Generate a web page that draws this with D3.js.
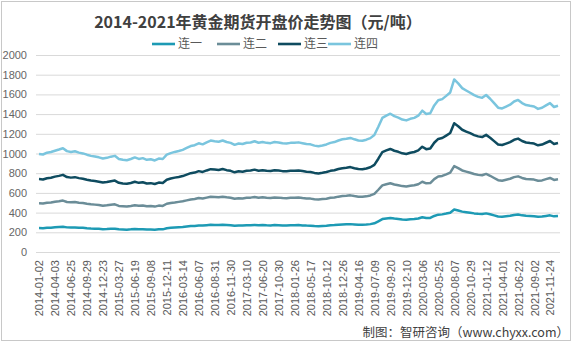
<!DOCTYPE html>
<html>
<head>
<meta charset="utf-8">
<script src="https://cdn.jsdelivr.net/npm/d3@7"></script>
<style>
  body { margin: 0; background: #fff; }
  svg { display: block; }
</style>
</head>
<body>
<svg id="chart" width="573" height="345"></svg>
<script>
// Category labels shown on the x axis (every ~58th trading day)
const categories = [
  "2014-01-02","2014-04-03","2014-06-25","2014-09-29","2014-12-23",
  "2015-03-27","2015-06-19","2015-09-08","2015-12-11","2016-03-14",
  "2016-06-07","2016-08-31","2016-11-30","2017-03-10","2017-06-20",
  "2017-10-30","2018-01-26","2018-05-17","2018-10-12","2018-12-26",
  "2019-04-16","2019-07-09","2019-09-20","2019-12-10","2020-03-06",
  "2020-05-25","2020-08-07","2020-10-29","2021-01-12","2021-04-01",
  "2021-06-22","2021-09-02","2021-11-24"
];

const seriesNames = ["连一", "连二", "连三", "连四"];

// Opening prices per contract, sampled four times per label interval
const lian1 = [
  243,242,246,247,251,255,257,250,248,249,
  246,245,241,238,236,235,231,233,236,237,
  230,229,227,230,234,231,232,228,229,227,
  231,230,241,245,248,251,253,258,263,265,
  270,268,272,276,275,274,277,274,271,266,
  269,268,271,272,275,272,273,271,270,273,
  272,270,269,271,271,273,270,268,267,264,
  262,265,267,271,273,277,280,282,283,280,
  277,277,279,283,291,312,334,340,345,339,
  335,331,328,332,334,340,353,345,346,366,
  379,382,390,399,432,422,410,404,398,392,
  388,386,392,383,372,361,358,363,368,376,
  380,372,367,365,363,358,360,366,372,362,
  365
];
const lian2 = [
  251,250,253,256,260,261,265,258,256,258,
  254,252,249,246,245,242,239,241,244,247,
  238,236,235,238,241,238,241,236,237,234,
  240,238,249,253,255,258,262,266,270,273,
  278,275,280,285,284,282,284,281,279,274,
  277,276,279,280,283,279,282,279,278,281,
  280,278,277,279,279,280,278,276,275,272,
  271,272,274,279,281,285,288,289,292,288,
  285,284,286,291,299,320,342,348,353,347,
  343,338,336,340,343,348,360,352,354,374,
  387,390,398,407,440,430,418,412,406,400,
  395,393,401,391,379,368,366,371,376,384,
  388,380,374,373,372,365,367,374,380,370,
  373
];
const lian3 = [
  246,244,250,251,254,257,261,253,251,253,
  250,247,244,241,240,237,235,236,239,241,
  234,231,230,233,238,233,235,231,233,229,
  234,233,244,248,252,253,256,261,267,268,
  273,270,276,280,278,277,281,276,274,269,
  273,271,275,275,278,274,276,274,274,276,
  275,273,273,274,274,275,274,271,271,267,
  265,267,271,274,276,280,283,284,287,283,
  280,279,283,286,294,315,338,343,348,342,
  339,333,331,335,338,343,356,347,350,369,
  382,385,394,402,435,425,413,407,402,395,
  391,388,396,386,375,363,362,366,371,379,
  383,375,371,368,366,360,364,369,375,365,
  369
];
const lian4 = [
  256,254,259,261,263,267,270,263,261,263,
  259,257,254,251,249,247,244,246,249,251,
  243,241,240,243,247,243,245,241,242,239,
  244,243,254,258,261,263,266,271,276,278,
  283,280,285,290,288,287,290,286,284,279,
  282,281,284,285,288,284,286,284,283,286,
  285,283,282,284,284,285,283,281,280,277,
  275,277,280,284,286,290,293,294,296,293,
  290,289,292,296,304,325,347,353,358,352,
  348,343,341,345,347,353,366,357,359,379,
  392,395,403,412,445,435,423,417,411,405,
  401,398,405,396,385,373,371,376,381,389,
  393,385,380,378,376,370,373,379,385,375,
  378
];
const sampleStep = 0.25; // fraction of a label interval between samples

const yTicks = [0, 200, 400, 600, 800, 1000, 1200, 1400, 1600, 1800, 2000];
const colors = ["#1d9ab4", "#6b8d98", "#0e4b5f", "#7ac5de"];

const titleText = "2014-2021年黄金期货开盘价走势图（元/吨）";
const sourceText = "制图：智研咨询（www.chyxx.com）";

const svg = d3.select("#chart");
const W = 573, H = 345;
const plot = { left: 39, right: 558, top: 55, bottom: 252, gridLeft: 36, gridRight: 560 };

// Outer frame
svg.append("rect")
  .attr("x", 1.5).attr("y", 1.5)
  .attr("width", W - 4).attr("height", H - 6)
  .attr("fill", "#fff").attr("stroke", "#c8c8c8");

const x = d3.scaleLinear()
  .domain([0, (lian1.length - 1) * sampleStep])
  .range([plot.left, plot.right]);
const y = d3.scaleLinear().domain([0, 2000]).range([plot.bottom, plot.top]);

// Y axis with horizontal gridlines
const yAxis = svg.append("g")
  .attr("transform", `translate(${plot.gridLeft},0)`)
  .call(d3.axisLeft(y).tickValues(yTicks).tickFormat(d3.format("d"))
    .tickSize(-(plot.gridRight - plot.gridLeft)).tickPadding(9));
yAxis.select(".domain").remove();
yAxis.selectAll(".tick line").attr("stroke", "#d9d9d9");
yAxis.selectAll(".tick text")
  .attr("fill", "#666").style("font-family", "'Liberation Sans', Arial, sans-serif")
  .style("font-size", "11px");

// X axis: rotated category labels
const xAxis = svg.append("g")
  .attr("transform", `translate(0,${plot.bottom})`)
  .call(d3.axisBottom(x).tickValues(d3.range(categories.length))
    .tickFormat(i => categories[i]).tickSize(0));
xAxis.select(".domain").remove();
xAxis.selectAll(".tick text")
  .attr("transform", "rotate(-90)")
  .attr("text-anchor", "end")
  .attr("x", -8).attr("y", 0).attr("dy", "0.36em")
  .attr("fill", "#595959")
  .style("font-family", "'Liberation Sans', Arial, sans-serif")
  .style("font-size", "11px");

// Stacked series
const rows = lian1.map((v, i) => ({
  t: i * sampleStep,
  "连一": lian1[i], "连二": lian2[i], "连三": lian3[i], "连四": lian4[i]
}));
const stacked = d3.stack().keys(seriesNames)(rows);

const line = d3.line()
  .x(d => x(d.data.t))
  .y(d => y(d[1]));

svg.append("g").selectAll("path")
  .data(stacked)
  .join("path")
  .attr("d", line)
  .attr("fill", "none")
  .attr("stroke", (d, i) => colors[i])
  .attr("stroke-width", 2.5)
  .attr("stroke-linejoin", "round");

// Title
svg.append("text")
  .attr("x", 258).attr("y", 28)
  .attr("text-anchor", "middle")
  .attr("fill", "#404040")
  .style("font-family", "'Noto Sans CJK SC', sans-serif")
  .style("font-weight", "bold")
  .style("font-size", "16px")
  .text(titleText);

// Legend
const legendX = [152, 217, 278, 328];
const legend = svg.append("g").selectAll("g")
  .data(seriesNames)
  .join("g")
  .attr("transform", (d, i) => `translate(${legendX[i]},44)`);
legend.append("line")
  .attr("x1", 0).attr("x2", 23).attr("y1", 0).attr("y2", 0)
  .attr("stroke", (d, i) => colors[i]).attr("stroke-width", 2.6);
legend.append("text")
  .attr("x", 26).attr("y", 0).attr("dy", "0.35em")
  .attr("fill", "#595959")
  .style("font-family", "'Noto Sans CJK SC', sans-serif")
  .style("font-size", "12px")
  .text(d => d);

// Source note
svg.append("text")
  .attr("x", 569).attr("y", 337)
  .attr("text-anchor", "end")
  .attr("fill", "#404040")
  .style("font-family", "'Noto Sans CJK SC', sans-serif")
  .style("font-size", "12.5px")
  .text(sourceText);
</script>
</body>
</html>
